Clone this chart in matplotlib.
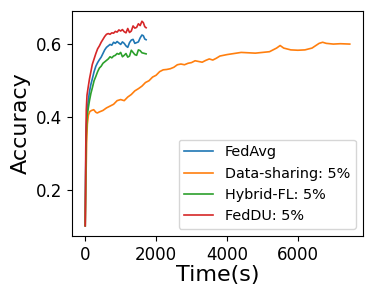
import matplotlib
matplotlib.use("Agg")
import matplotlib.pyplot as plt

# time stamps (s) for the three short runs
t_short = [0, 15, 30, 50, 80, 120, 160, 200, 250, 300,
           350, 400, 450, 500, 550, 600, 650, 700, 750, 800,
           850, 900, 950, 1000, 1050, 1100, 1150, 1200, 1250, 1300,
           1350, 1400, 1450, 1500, 1550, 1600, 1640, 1680, 1718]

fedavg = [0.10, 0.27, 0.37, 0.41, 0.44, 0.47, 0.49, 0.505, 0.525, 0.54,
          0.55, 0.558, 0.565, 0.575, 0.585, 0.592, 0.596, 0.60, 0.598, 0.606,
          0.603, 0.608, 0.604, 0.60, 0.607, 0.603, 0.596, 0.592, 0.605, 0.612,
          0.614, 0.603, 0.605, 0.607, 0.618, 0.626, 0.624, 0.615, 0.613]

hybrid = [0.10, 0.25, 0.35, 0.40, 0.42, 0.445, 0.465, 0.48, 0.50, 0.512,
          0.525, 0.535, 0.54, 0.548, 0.552, 0.556, 0.56, 0.566, 0.563, 0.568,
          0.57, 0.575, 0.573, 0.578, 0.566, 0.57, 0.575, 0.565, 0.568, 0.584,
          0.578, 0.572, 0.57, 0.585, 0.583, 0.577, 0.576, 0.575, 0.574]

feddu = [0.10, 0.31, 0.42, 0.46, 0.48, 0.505, 0.525, 0.545, 0.56, 0.575,
         0.588, 0.596, 0.606, 0.614, 0.622, 0.628, 0.63, 0.628, 0.632, 0.631,
         0.636, 0.634, 0.64, 0.637, 0.641, 0.635, 0.632, 0.644, 0.633, 0.637,
         0.651, 0.645, 0.647, 0.657, 0.652, 0.664, 0.66, 0.649, 0.646]

# data-sharing run is much longer
t_ds = [0, 20, 40, 60, 90, 130, 180, 240, 300, 340,
        400, 500, 600, 700, 800, 900, 1000, 1100, 1200, 1300,
        1400, 1500, 1600, 1700, 1800, 1900, 2000, 2100, 2200, 2300,
        2400, 2500, 2600, 2700, 2800, 2900, 3000, 3100, 3200, 3300,
        3400, 3500, 3600, 3700, 3800, 3900, 4000,
        4200, 4400, 4600, 4800, 5000, 5200, 5400,
        5500, 5600, 5800, 6000, 6200, 6400, 6600,
        6700, 6800, 7000, 7200, 7465]
datashare = [0.10, 0.22, 0.33, 0.38, 0.405, 0.415, 0.418, 0.42, 0.413, 0.411,
             0.414, 0.418, 0.425, 0.43, 0.435, 0.445, 0.448, 0.445, 0.455, 0.462,
             0.472, 0.478, 0.485, 0.495, 0.50, 0.51, 0.515, 0.525, 0.53, 0.531,
             0.533, 0.537, 0.544, 0.546, 0.544, 0.548, 0.55, 0.555, 0.553, 0.551,
             0.556, 0.56, 0.557, 0.562, 0.568, 0.57, 0.572,
             0.575, 0.578, 0.577, 0.576, 0.578, 0.58, 0.59,
             0.597, 0.59, 0.585, 0.584, 0.585, 0.59, 0.603,
             0.606, 0.603, 0.601, 0.602, 0.601]

fig = plt.figure(figsize=(3.74, 2.99), dpi=100)
ax = fig.add_axes([0.1925, 0.2107, 0.7781, 0.7525])

lw = 1.2
ax.plot(t_short, fedavg, color='#1f77b4', lw=lw, label='FedAvg')
ax.plot(t_ds, datashare, color='#ff7f0e', lw=lw, label='Data-sharing: 5%')
ax.plot(t_short, hybrid, color='#2ca02c', lw=lw, label='Hybrid-FL: 5%')
ax.plot(t_short, feddu, color='#d62728', lw=lw, label='FedDU: 5%')

ax.set_xticks([0, 2000, 4000, 6000])
ax.set_yticks([0.2, 0.4, 0.6])
ax.tick_params(labelsize=12)
ax.set_xlabel('Time(s)', fontsize=16, labelpad=1)
ax.set_ylabel('Accuracy', fontsize=16)
ax.legend(loc='lower right', fontsize=10.4)

fig.savefig('out.png', dpi=100)
